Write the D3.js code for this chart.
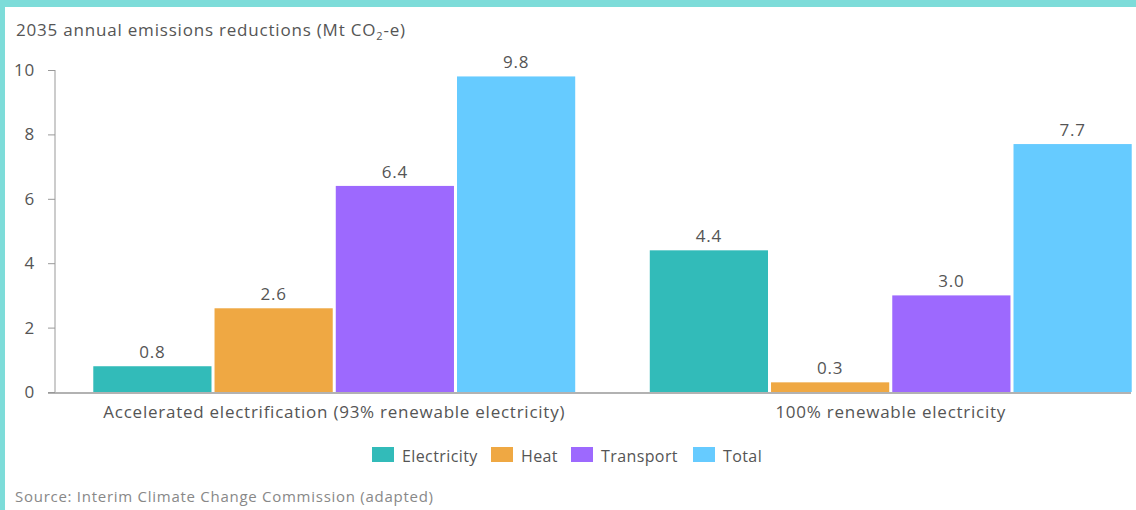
<!DOCTYPE html>
<html>
<head>
<meta charset="utf-8">
<script src="https://cdn.jsdelivr.net/npm/d3@7/dist/d3.min.js"></script>
<style>
  html, body { margin: 0; padding: 0; background: #fff; }
  svg { display: block; font-family: "Open Sans", sans-serif; }
</style>
</head>
<body>
<svg id="chart" width="1136" height="510"></svg>
<script>
const categories = ["Accelerated electrification (93% renewable electricity)", "100% renewable electricity"];
const seriesNames = ["Electricity", "Heat", "Transport", "Total"];
const electricity = [0.8, 4.4];
const heat = [2.6, 0.3];
const transport = [6.4, 3.0];
const total = [9.8, 7.7];
const yTicks = [0, 2, 4, 6, 8, 10];
const colors = ["#32bbb9", "#efa843", "#9d69fe", "#66cbff"];

const seriesValues = [electricity, heat, transport, total];
const svg = d3.select("#chart");
const textColor = "#555";
const ls = "0.75px";

// frame
svg.append("rect").attr("x", 0).attr("y", 0).attr("width", 1136).attr("height", 7).attr("fill", "#7ddcd9");
svg.append("rect").attr("x", 0).attr("y", 0).attr("width", 5).attr("height", 510).attr("fill", "#7ddcd9");

// title
const title = svg.append("text").attr("x", 16).attr("y", 36)
  .attr("fill", textColor).style("font-size", "17px").style("letter-spacing", "0.8px");
title.append("tspan").text("2035 annual emissions reductions (Mt CO");
title.append("tspan").attr("dy", 4).style("font-size", "11px").text("2");
title.append("tspan").attr("dy", -4).text("-e)");

const y = d3.scaleLinear().domain([0, 10]).range([392, 70]);
const x0 = d3.scaleBand().domain(categories).range([56, 1169]).paddingInner(0.134).paddingOuter(0.067);
const x1 = d3.scaleBand().domain(seriesNames).range([0, x0.bandwidth()]).paddingInner(0.025);

// y axis
const yAxis = svg.append("g").attr("transform", "translate(55,0)")
  .call(d3.axisLeft(y).tickValues(yTicks).tickSize(7).tickPadding(13).tickFormat(d3.format("d")));
yAxis.select(".domain").attr("stroke", "#999").attr("d", `M0,${y(10)}V${y(0)}`);
yAxis.selectAll(".tick line").attr("stroke", "#999");
yAxis.selectAll(".tick text").attr("fill", textColor).style("font-size", "17px")
  .style("letter-spacing", ls).style("font-family", "'Open Sans', sans-serif");

// bars
const rows = categories.map((c, i) => ({ cat: c, vals: seriesNames.map((s, j) => ({ s, v: seriesValues[j][i], c: colors[j] })) }));
const g = svg.append("g");
const grp = g.selectAll("g.grp").data(rows).join("g").attr("class", "grp")
  .attr("transform", d => `translate(${x0(d.cat)},0)`);
grp.selectAll("rect").data(d => d.vals).join("rect")
  .attr("x", d => x1(d.s)).attr("width", x1.bandwidth())
  .attr("y", d => y(d.v)).attr("height", d => y(0) - y(d.v))
  .attr("fill", d => d.c);
grp.selectAll("text").data(d => d.vals).join("text")
  .attr("x", d => x1(d.s) + x1.bandwidth() / 2).attr("y", d => y(d.v) - 8)
  .attr("text-anchor", "middle").attr("fill", textColor).style("font-size", "17px")
  .style("letter-spacing", ls)
  .text(d => d.v.toFixed(1));

// x axis baseline
svg.append("line").attr("x1", 48).attr("x2", 1131).attr("y1", 393).attr("y2", 393)
  .attr("stroke", "#999").attr("stroke-width", 1.5);
svg.selectAll("text.cat").data(categories).join("text").attr("class", "cat")
  .attr("x", d => x0(d) + x0.bandwidth() / 2).attr("y", 418)
  .attr("text-anchor", "middle").attr("fill", textColor).style("font-size", "17px")
  .style("letter-spacing", ls)
  .text(d => d);

// legend
const legendX = [372, 491, 571, 693];
const lg = svg.append("g");
const items = lg.selectAll("g").data(seriesNames).join("g")
  .attr("transform", (d, i) => `translate(${legendX[i]},447)`);
items.append("rect").attr("width", 22).attr("height", 15).attr("fill", (d, i) => colors[i]);
items.append("text").attr("x", 30).attr("y", 15).attr("fill", textColor).style("font-size", "16px")
  .style("letter-spacing", "0.4px").text(d => d);

// source
svg.append("text").attr("x", 15).attr("y", 502).attr("fill", "#888").style("font-size", "15px")
  .style("letter-spacing", "0.73px")
  .text("Source: Interim Climate Change Commission (adapted)");
</script>
</body>
</html>
